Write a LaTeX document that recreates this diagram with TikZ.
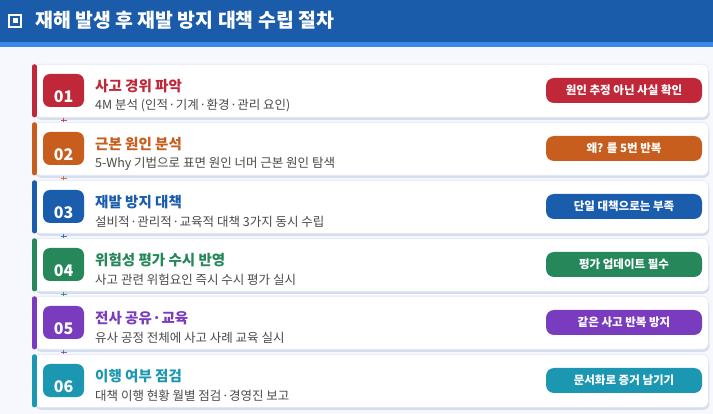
\documentclass[tikz,border=0pt]{standalone}
\usepackage{fontspec}
\setmainfont{Noto Sans CJK KR}
\usetikzlibrary{calc,shadows}
\definecolor{bgc}{HTML}{F6F8FD}
\definecolor{hdr}{HTML}{1A5BAA}
\definecolor{hdrb}{HTML}{3E89E6}
\definecolor{shc}{HTML}{D5DEEE}
\definecolor{edgec}{HTML}{E2E8F2}
\definecolor{subc}{HTML}{4A4A4A}
\definecolor{c1}{HTML}{C0283A}
\definecolor{c2}{HTML}{C85E1E}
\definecolor{c3}{HTML}{1A5DAD}
\definecolor{c4}{HTML}{26875A}
\definecolor{c5}{HTML}{7A3CBE}
\definecolor{c6}{HTML}{1C97B2}
\newcommand{\mdot}{\hspace{0.03em}·\hspace{0.03em}}
\tikzset{
  cardbox/.style={draw=edgec, line width=0.6pt, fill=white, rounded corners=6pt,
    minimum width=674pt, minimum height=53pt, inner sep=0pt, anchor=north west,
    drop shadow={shadow xshift=1pt, shadow yshift=-2.5pt, fill=shc, opacity=1}},
  badgebox/.style={rounded corners=7pt, minimum width=41pt, minimum height=33pt, inner sep=0pt},
  numtext/.style={text=white, font=\bfseries\fontsize{16}{18}\selectfont, inner sep=0pt},
  titletext/.style={anchor=west, inner sep=0pt, font=\bfseries\fontsize{14.5}{16}\selectfont},
  subtext/.style={anchor=west, inner sep=0pt, text=subc, font=\fontsize{12.5}{14}\selectfont},
  pillbox/.style={rounded corners=8pt, minimum width=156pt, minimum height=25pt, inner sep=0pt,
    text=white, font=\bfseries\fontsize{11.5}{13}\selectfont},
  sidebar/.style={line width=4.5pt, line cap=round},
  conn/.style={line width=1pt, opacity=0.8}
}
\begin{document}
\begin{tikzpicture}[x=1pt,y=-1pt]
\fill[bgc] (0,0) rectangle (713,414);
\useasboundingbox (0,0) rectangle (713,414);
\fill[hdr] (0,0) rectangle (713,42);
\fill[hdrb] (0,42) rectangle (713,47);
\draw[white, line width=1.4pt] (9,15) rectangle (21,27);
\fill[white] (12.5,18.5) rectangle (17.5,23.5);
\node[anchor=west, inner sep=0pt, text=white, font=\bfseries\fontsize{19.4}{22}\selectfont] (title) at (35,20.5) {재해 발생 후 재발 방지 대책 수립 절차};
\foreach \i/\n/\t/\s/\p in {
  1/01/사고 경위 파악/4M 분석 (인적\mdot 기계\mdot 환경\mdot 관리 요인)/원인 추정 아닌 사실 확인,
  2/02/근본 원인 분석/5-Why 기법으로 표면 원인 너머 근본 원인 탐색/왜? 를 5번 반복,
  3/03/재발 방지 대책/설비적\mdot 관리적\mdot 교육적 대책 3가지 동시 수립/단일 대책으로는 부족,
  4/04/위험성 평가 수시 반영/사고 관련 위험요인 즉시 수시 평가 실시/평가 업데이트 필수,
  5/05/전사 공유\mdot 교육/유사 공정 전체에 사고 사례 교육 실시/같은 사고 반복 방지,
  6/06/이행 여부 점검/대책 이행 현황 월별 점검\mdot 경영진 보고/문서화로 증거 남기기}{
  \pgfmathsetmacro{\ytop}{64+58*(\i-1)}
  \node[cardbox] (card\i) at (34,\ytop) {};
  \draw[sidebar, c\i] ($(card\i.north west)+(0.5,2.5)$) -- ($(card\i.south west)+(0.5,-2.5)$);
  \node[badgebox, fill=c\i] (badge\i) at (63.5,\ytop+26.5) {};
  \node[numtext] (num\i) at (63.5,\ytop+33) {\n};
  \node[titletext, text=c\i] (ttl\i) at (95,\ytop+22) {\t};
  \node[subtext] (sub\i) at (95,\ytop+41.5) {\s};
  \node[pillbox, fill=c\i] (pill\i) at (624,\ytop+26.5) {\p};
}
\foreach \i/\j in {1/2,2/3,3/4,4/5,5/6}{
  \draw[conn, c\i] (badge\i.south |- card\i.south) -- (badge\i.south |- card\j.north);
  \draw[conn, c\i] ($(badge\i.south |- card\i.south)+(-3,2.5)$) -- ($(badge\i.south |- card\i.south)+(3,2.5)$);
}
\end{tikzpicture}
\end{document}
